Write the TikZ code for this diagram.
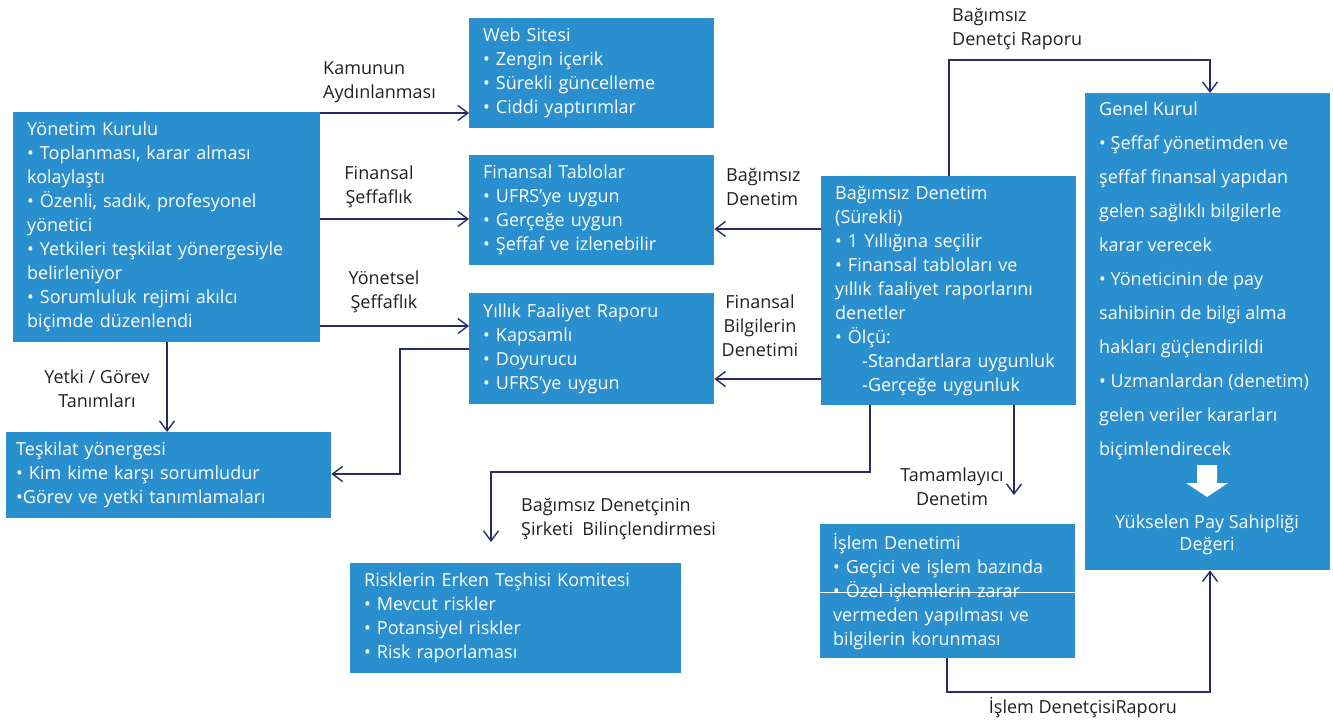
\documentclass[tikz,border=0pt]{standalone}
\usepackage{fontspec}
\setmainfont{Open Sans}
\usetikzlibrary{arrows.meta}
\definecolor{boxblue}{RGB}{41,143,207}
\definecolor{navy}{RGB}{40,44,100}
\definecolor{lbl}{RGB}{35,31,32}
\begin{document}
\begin{tikzpicture}[x=1pt,y=-1pt,
  txt/.style={font=\fontsize{18}{24}\selectfont},
  box/.style={txt, fill=boxblue, text=white, anchor=north west, align=left, inner ysep=0pt, inner xsep=14pt},
  lab/.style={txt, text=lbl, inner sep=0pt},
  arr/.style={draw=navy, line width=1.4pt, -{Straight Barb[length=10pt,width=15pt]}}]
\useasboundingbox (0,0) rectangle (1333,722);

% boxes
\node[box, minimum height=230pt, text width=279pt] (yk) at (13,112) {Yönetim Kurulu\\• Toplanması, karar alması\\kolaylaştı\\• Özenli, sadık, profesyonel\\yönetici\\• Yetkileri teşkilat yönergesiyle\\belirleniyor\\• Sorumluluk rejimi akılcı\\biçimde düzenlendi};
\node[box, minimum height=110pt, text width=217pt] (web) at (469,18) {Web Sitesi\\• Zengin içerik\\• Sürekli güncelleme\\• Ciddi yaptırımlar};
\node[box, minimum height=110pt, text width=217pt] (ft) at (469,155) {Finansal Tablolar\\• UFRS’ye uygun\\• Gerçeğe uygun\\• Şeffaf ve izlenebilir};
\node[box, minimum height=111pt, text width=217pt] (yfr) at (469,293) {Yıllık Faaliyet Raporu\\• Kapsamlı\\• Doyurucu\\• UFRS’ye uygun};
\node[box, minimum height=86pt, text width=305pt, inner xsep=10pt] (tes) at (6,432) {Teşkilat yönergesi\\• Kim kime karşı sorumludur\\•Görev ve yetki tanımlamaları};
\node[box, minimum height=110pt, text width=303pt] (risk) at (350,563) {Risklerin Erken Teşhisi Komitesi\\• Mevcut riskler\\• Potansiyel riskler\\• Risk raporlaması};
\node[box, minimum height=229pt, text width=227pt] (bd) at (821,176) {Bağımsız Denetim\\(Sürekli)\\• 1 Yıllığına seçilir\\• Finansal tabloları ve\\yıllık faaliyet raporlarını\\denetler\\• Ölçü:\\\hspace*{27pt}-Standartlara uygunluk\\\hspace*{27pt}-Gerçeğe uygunluk};
\node[box, minimum height=134pt, text width=229pt, inner xsep=13pt] (isl) at (820,524) {İşlem Denetimi\\• Geçici ve işlem bazında\\• Özel işlemlerin zarar\\vermeden yapılması ve\\bilgilerin korunması};
\coordinate (w1) at (0,592);
\draw[white, line width=1pt] (isl.west |- w1) -- (isl.east |- w1);

\node[box, minimum height=477pt, minimum width=245pt, inner xsep=0pt] (gk) at (1085,93) {};
\node[txt, text=white, anchor=west, align=left, inner sep=0pt, font=\fontsize{18}{34}\selectfont] (gkt) at (1099,281) {Genel Kurul\\• Şeffaf yönetimden ve\\şeffaf finansal yapıdan\\gelen sağlıklı bilgilerle\\karar verecek\\• Yöneticinin de pay\\sahibinin de bilgi alma\\hakları güçlendirildi\\• Uzmanlardan (denetim)\\gelen veriler kararları\\biçimlendirecek};
\fill[white] (1197,465) -- (1217,465) -- (1217,483) -- (1228,483) -- (1207,497) -- (1186,483) -- (1197,483) -- cycle;
\node[txt, text=white, align=center, inner sep=0pt, font=\fontsize{18}{22}\selectfont] (gkv) at (1207,535) {Yükselen Pay Sahipliği\\Değeri};

% labels
\node[lab, anchor=west, align=left] (l1) at (323,82) {Kamunun\\Aydınlanması};
\node[lab, align=center] (l2) at (379,187) {Finansal\\Şeffaflık};
\node[lab, align=center] (l3) at (384,292) {Yönetsel\\Şeffaflık};
\node[lab, align=center] (l4) at (97,389) {Yetki / Görev\\Tanımları};
\node[lab, anchor=west, align=left] (l5) at (726,187) {Bağımsız\\Denetim};
\node[lab, align=center] (l6) at (760,326) {Finansal\\Bilgilerin\\Denetimi};
\node[lab, anchor=west, align=left] (l7) at (952,29) {Bağımsız\\Denetçi Raporu};
\node[lab, align=center] (l8) at (952,487) {Tamamlayıcı\\Denetim};
\node[lab, anchor=west, align=left] (l9) at (521,519) {Bağımsız Denetçinin\\Şirketi~~Bilinçlendirmesi};
\node[lab] (l10) at (1083,708) {İşlem DenetçisiRaporu};

% connectors
\coordinate (y1) at (0,113);
\coordinate (y2) at (0,219);
\coordinate (y3) at (0,326);
\draw[arr] (yk.east |- y1) -- (web.west |- y1);
\draw[arr] (yk.east |- y2) -- (ft.west |- y2);
\draw[arr] (yk.east |- y3) -- (yfr.west |- y3);
\coordinate (x1) at (167,0);
\draw[arr] (yk.south -| x1) -- (tes.north -| x1);
\coordinate (p1) at (400,349);
\coordinate (p2) at (400,474);
\draw[arr] (yfr.west |- p1) -- (p1) -- (p2) -- (tes.east |- p2);
\coordinate (y4) at (0,229);
\coordinate (y5) at (0,379);
\draw[arr] (bd.west |- y4) -- (ft.east |- y4);
\draw[arr] (bd.west |- y5) -- (yfr.east |- y5);
\coordinate (q1) at (949,60);
\coordinate (q2) at (1210,60);
\draw[arr] (bd.north -| q1) -- (q1) -- (q2) -- (gk.north -| q2);
\coordinate (r1) at (870,472);
\coordinate (r2) at (491,472);
\coordinate (r3) at (491,542);
\draw[arr] (bd.south -| r1) -- (r1) -- (r2) -- (r3);
\coordinate (s1) at (1014,495);
\draw[arr] (bd.south -| s1) -- (s1);
\coordinate (t1) at (947,692);
\coordinate (t2) at (1210,692);
\draw[arr] (isl.south -| t1) -- (t1) -- (t2) -- (gk.south -| t2);
\end{tikzpicture}
\end{document}
